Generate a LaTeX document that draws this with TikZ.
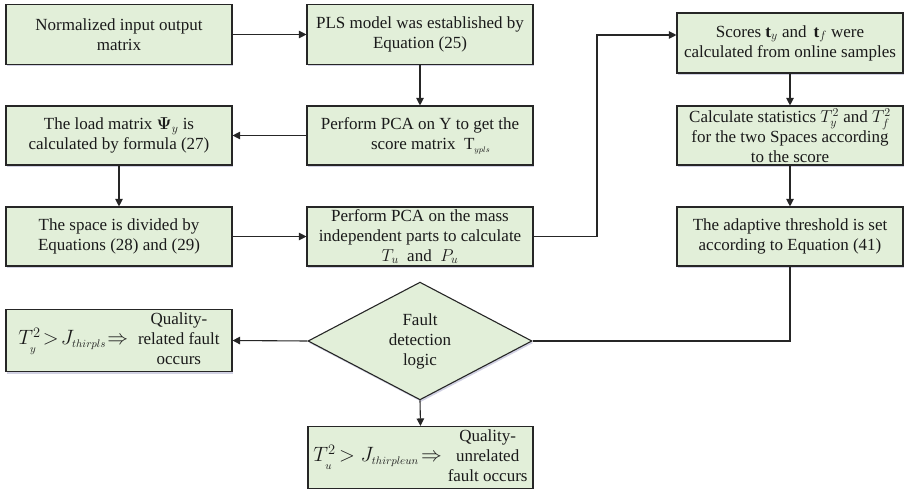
\documentclass[tikz,border=0pt]{standalone}
\usepackage{amsmath,amssymb,bm}
\usepackage{fontspec}
\setmainfont{Liberation Serif}
\usetikzlibrary{shapes.geometric,arrows.meta,shadows}
\definecolor{boxfill}{HTML}{E2EFD9}
\definecolor{boxline}{HTML}{262626}
\definecolor{txt}{HTML}{1A1A1A}
\begin{document}
\begin{tikzpicture}[x=1pt,y=-1pt,
  shade/.style={drop shadow={opacity=0.18,fill=blue!40!black,shadow xshift=1.2pt,shadow yshift=-2pt}},
  box/.style={draw=boxline,line width=1.1pt,fill=boxfill,shade,minimum width=226pt,minimum height=60pt,
    align=center,inner sep=1pt,text=txt,font=\fontsize{17}{20}\selectfont},
  dec/.style={diamond,draw=boxline,line width=1.1pt,fill=boxfill,shade,minimum width=224pt,minimum height=93pt,
    inner sep=0pt,align=center,text=txt,font=\fontsize{17}{20}\selectfont},
  arr/.style={-{Triangle[length=7.5pt,width=7.5pt]},line width=1.1pt,draw=boxline},
  ln/.style={line width=1.1pt,draw=boxline}]
\useasboundingbox (0,0) rectangle (904,489);

\node[box] (b1) at (119,34.5) {Normalized input output\\matrix};
\node[box] (b2) at (420,34.5) {PLS model was established by\\Equation (25)};
\node[box] (b3) at (790,43) {Scores $\mathbf{t}_{y}$ and \,$\mathbf{t}_{f}$ were\\calculated from online samples};
\node[box,minimum height=59pt] (b4) at (790,135.5) {Calculate statistics $T_{y}^{2}$ and $T_{f}^{2}$\\for the two Spaces according\\to the score};
\node[box,minimum height=59pt] (b5) at (790,236.5) {The adaptive threshold is set\\according to Equation (41)};
\node[box,minimum height=59pt] (b6) at (119,135.5) {The load matrix $\bm{\Psi}_{y}$ is\\calculated by formula (27)};
\node[box,minimum height=59pt] (b7) at (420,135.5) {Perform PCA on Y to get the\\\quad\ score matrix \ $\mathrm{T}_{\scriptscriptstyle ypls}$};
\node[box,minimum height=59pt] (b8) at (119,236.5) {The space is divided by\\Equations (28) and (29)};
\node[box,minimum height=59pt] (b9) at (420,236.5) {Perform PCA on the mass\\independent parts to calculate\\$T_u$ \ and \ $P_u$};

\node[dec] (d) at (420,341) {Fault\\detection\\logic};

\node[box,minimum height=61pt] (bL) at (119,340.5)
  {{\fontsize{22}{24}\selectfont$T^{2}_{\lower3pt\hbox{$\scriptscriptstyle y$}}\mkern-3mu>\mkern-3mu J_{\scriptscriptstyle thirpls}\mkern-4mu\Rightarrow$}\hspace{10pt}\begin{tabular}{@{}c@{}}Quality-\\related fault\\occurs\end{tabular}};
\node[box,minimum width=225pt,minimum height=61pt] (bB) at (420.5,457.5)
  {{\fontsize{22}{24}\selectfont$T^{2}_{\lower3pt\hbox{$\scriptscriptstyle u$}}\mkern-2mu>J_{\scriptscriptstyle thirpleun}\mkern-3mu\Rightarrow$}\hspace{6pt}\begin{tabular}{@{}c@{}}Quality-\\unrelated\\fault occurs\end{tabular}};

\coordinate (c1) at (597,236.5);
\coordinate (c2) at (597,35);

\draw[arr] (b1) -- (b2);
\draw[arr] (b2) -- (b7);
\draw[arr] (b7) -- (b6);
\draw[arr] (b6) -- (b8);
\draw[arr] (b8) -- (b9);
\draw[arr] (b9.east) -- (c1) -- (c2) -- (c2 -| b3.west);
\draw[arr] (b3) -- (b4);
\draw[arr] (b4) -- (b5);
\draw[ln] (b5.south) |- (d.east);
\draw[arr] (d.west) -- (bL.east);
\draw[arr] (d.south) -- (bB.north);
\end{tikzpicture}
\end{document}
